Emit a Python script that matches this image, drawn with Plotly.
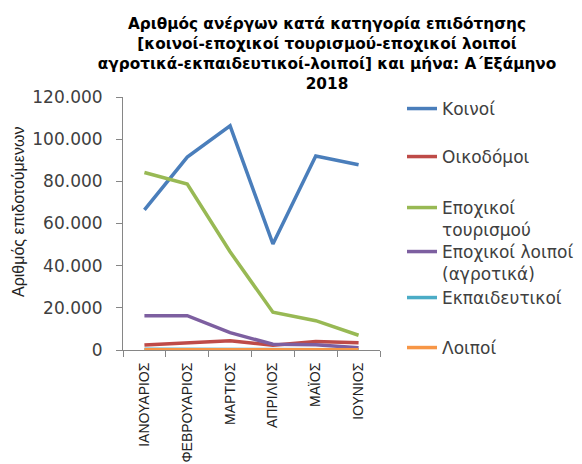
import plotly.graph_objects as go

months = ["ΙΑΝΟΥΑΡΙΟΣ", "ΦΕΒΡΟΥΑΡΙΟΣ", "ΜΑΡΤΙΟΣ", "ΑΠΡΙΛΙΟΣ", "ΜΑΪΟΣ", "ΙΟΥΝΙΟΣ"]

koinoi = [66500, 91500, 106300, 50300, 92000, 87900]
oikodomoi = [2400, 3500, 4400, 2200, 4000, 3400]
epoxikoi_tourismou = [84200, 78700, 46600, 17900, 13900, 7000]
epoxikoi_loipoi = [16300, 16300, 8200, 2700, 2500, 1100]
ekpaideutikoi = [400, 400, 400, 150, 150, 150]
loipoi = [60, 60, 60, 60, 60, 60]

series_names = ["Κοινοί", "Οικοδόμοι", "Εποχικοί<br>τουρισμού",
                "Εποχικοί λοιποί<br>(αγροτικά)", "Εκπαιδευτικοί", "Λοιποί"]
series_values = [koinoi, oikodomoi, epoxikoi_tourismou, epoxikoi_loipoi, ekpaideutikoi, loipoi]
colors = ["#4A7EBB", "#BE4B48", "#98B954", "#7D5FA0", "#4BACC6", "#F79646"]

y_ticks = [0, 20000, 40000, 60000, 80000, 100000, 120000]
y_tick_text = ["0", "20.000", "40.000", "60.000", "80.000", "100.000", "120.000"]

fig = go.Figure()
legend_ids = ["legend", "legend2", "legend3", "legend4", "legend5", "legend6"]
for name, vals, col, lg in zip(series_names, series_values, colors, legend_ids):
    fig.add_trace(go.Scatter(x=months, y=vals, mode="lines", name=name,
                             line=dict(color=col, width=3.5), legend=lg))

L, R, T, B = 123, 202, 97, 114
W, H = 582, 464
pw = W - L - R
ph = H - T - B

def py(ypix):
    return (H - B - ypix) / ph

legend_font = dict(family="DejaVu Sans", size=17, color="#404040")
legend_tops = [91, 139, 190, 234, 280, 330]
lx = (402 - L) / pw
layout_legends = {}
for lg, top in zip(legend_ids, legend_tops):
    layout_legends[lg] = dict(x=lx, y=py(top), xanchor="left", yanchor="top",
                              font=legend_font, bgcolor="rgba(0,0,0,0)",
                              valign="top", itemwidth=30, tracegroupgap=0)

fig.update_layout(
    width=W, height=H,
    margin=dict(l=L, r=R, t=T, b=B, autoexpand=False),
    paper_bgcolor="white", plot_bgcolor="white",
    title=dict(
        text="<b>Αριθμός ανέργων κατά κατηγορία επιδότησης<br>[κοινοί-εποχικοί τουρισμού-εποχικοί λοιποί<br>αγροτικά-εκπαιδευτικοί-λοιποί] και μήνα: Α΄Εξάμηνο<br>2018</b>",
        x=327 / W, xanchor="center", y=1 - 29 / H, yanchor="top",
        font=dict(family="DejaVu Sans", size=15.3, color="black"),
    ),
    showlegend=True,
    **layout_legends,
)

fig.update_xaxes(
    type="category", tickangle=-90, showgrid=False, automargin=False,
    showline=True, linecolor="#868686", linewidth=1,
    ticks="outside", tickson="boundaries", ticklen=6, tickcolor="#868686",
    tickfont=dict(family="Liberation Sans", size=14, color="#222222"),
    ticklabelstandoff=6,
    range=[-0.5, 5.5],
)
fig.update_yaxes(
    range=[0, 120000], tickvals=y_ticks, ticktext=y_tick_text,
    showgrid=False, zeroline=False, automargin=False,
    showline=True, linecolor="#868686", linewidth=1,
    ticks="outside", ticklen=6, tickcolor="#868686",
    tickfont=dict(family="DejaVu Sans", size=17, color="#404040"),
    ticklabelstandoff=10,
)

fig.add_annotation(
    text="Αριθμός επιδοτούμενων", textangle=-90,
    xref="paper", yref="paper", x=(18 - L) / pw, y=py(212),
    xanchor="center", yanchor="middle", showarrow=False,
    font=dict(family="Liberation Sans", size=16, color="#222222"),
)

fig.write_html("out.html", config={"displayModeBar": False},
               post_script="document.body.style.margin='0px';")
